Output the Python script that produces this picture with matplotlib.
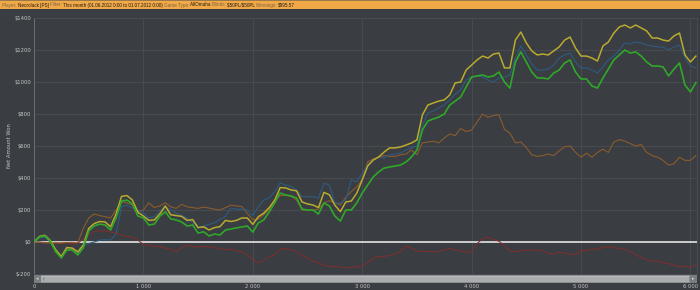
import numpy as np
import matplotlib
matplotlib.use("Agg")
import matplotlib.pyplot as plt
from matplotlib.patches import Rectangle

# ---------------- data ----------------
hands = np.arange(0, 6051, 50)

green = [0,31,38,2,-62,-100,-50,-50,-81,-38,
         69,100,112,106,75,150,256,262,238,162,
         150,106,112,162,188,144,138,125,100,106,
         56,64,38,50,44,75,81,88,94,100,
         62,119,138,188,244,306,294,288,275,206,
         200,200,175,244,225,162,131,200,200,244,
         306,356,406,438,462,469,475,481,500,531,
         575,700,756,769,781,800,856,881,906,969,
         1031,1038,1044,1031,1038,1062,1000,962,1125,1188,
         1125,1062,1025,1025,1019,1056,1075,1119,1138,1062,
         1019,1019,975,962,1025,1081,1138,1169,1200,1181,
         1188,1162,1125,1100,1100,1094,1038,1081,1119,981,
         938,996]

yellow = [0,35,42,8,-50,-90,-35,-38,-62,-20,
          85,115,128,125,95,175,285,290,262,185,
          162,135,138,175,225,170,165,160,135,140,
          90,95,75,90,96,135,128,135,150,150,
          110,158,180,215,260,340,338,325,320,250,
          238,231,215,310,295,230,190,250,256,305,
          388,475,512,531,562,588,588,594,606,619,
          638,794,856,869,881,888,919,994,1000,1075,
          1106,1138,1162,1150,1175,1181,1088,1088,1262,1312,
          1244,1194,1169,1175,1169,1194,1219,1262,1281,1212,
          1162,1162,1150,1131,1225,1250,1306,1344,1356,1338,
          1356,1338,1319,1275,1275,1262,1256,1288,1306,1169,
          1125,1162]

blue = [0,25,30,0,-60,-95,-45,-45,-75,-25,
        -10,0,12,15,12,50,221,230,212,200,
        180,150,160,190,221,200,180,165,150,120,
        88,100,110,120,140,160,212,205,205,200,
        165,221,262,275,315,369,356,346,325,283,
        283,283,275,367,356,244,244,262,388,377,
        429,481,512,531,525,544,550,556,575,588,
        600,731,806,819,838,856,888,925,950,1012,
        1031,1038,1031,1012,1000,1025,1031,1044,1150,1225,
        1169,1112,1075,1075,1081,1106,1150,1169,1181,1125,
        1088,1088,1075,1056,1094,1138,1162,1200,1244,1238,
        1250,1244,1231,1225,1219,1219,1200,1219,1231,1150,
        1100,1088]

brown = [0,-3,-5,-5,-5,-5,-3,-3,-5,85,
         150,175,165,158,150,200,250,245,230,190,
         200,245,215,225,245,220,210,235,220,215,
         210,218,212,205,200,215,230,225,221,178,
         140,142,170,205,265,290,292,285,262,200,
         200,200,206,245,258,245,232,280,315,345,
         390,500,520,530,540,535,535,545,550,575,
         545,620,625,630,620,650,675,665,710,690,
         700,750,800,780,790,795,705,680,620,625,
         590,545,535,540,550,540,570,595,600,560,
         530,555,530,560,580,560,625,640,630,615,
         600,610,560,540,530,510,480,490,530,510,
         510,540]

red = [0,0,-5,-8,-8,-10,-5,-12,-8,20,
       44,65,70,70,62,55,44,35,30,12,
       -16,-20,-25,-30,-38,-45,-60,-38,-19,-28,
       -32,-28,-30,-35,-40,-50,-45,-55,-60,-80,
       -110,-130,-115,-92,-80,-45,-40,-50,-60,-85,
       -100,-120,-130,-145,-155,-150,-158,-162,-158,-155,
       -150,-130,-100,-92,-90,-85,-75,-60,-25,-40,
       -55,-60,-58,-62,-58,-50,-40,-50,-55,-65,
       -60,-10,20,30,15,5,-25,-55,-60,-55,
       -50,-50,-50,-55,-70,-75,-65,-70,-75,-80,
       -50,-55,-45,-45,-35,-30,-38,-38,-45,-60,
       -80,-95,-112,-120,-118,-130,-135,-145,-155,-150,
       -160,-140]

y_ticks = [-200, 0, 200, 400, 600, 800, 1000, 1200, 1400]
x_ticks = [0, 1000, 2000, 3000, 4000, 5000, 6000]

title_parts = [("Player: ", "label"), ("Necrolack [PS] ", "value"),
               ("Filter: ", "label"),
               ("This month (01.06.2012 0:00 to 01.07.2012 0:00) ", "value"),
               ("Game Type: ", "label"), ("AllOmaha ", "value"),
               ("Blinds: ", "label"), ("$50PL/$50PL ", "value"),
               ("Winnings: ", "label"), ("$995.57", "value")]

# ---------------- style ----------------
BG = "#3a3d41"
GRID = "#4a4e53"
TXT = "#c4c6c8"
W, H = 700, 290

fig = plt.figure(figsize=(7, 2.9), dpi=100, facecolor=BG)
ax = fig.add_axes([34 / W, 1 - 274 / H, 663 / W, 256 / H])
ax.set_facecolor(BG)

ax.set_xlim(0, 6060)
ax.set_ylim(-200, 1400)

ax.set_yticks(y_ticks)
ax.set_yticklabels(["\\$%d" % v for v in y_ticks])
ax.set_xticks(x_ticks)
ax.set_xticklabels([("{:,}".format(v)).replace(",", " ") for v in x_ticks])
ax.tick_params(axis="both", length=0, labelsize=3.8, colors=TXT)
ax.tick_params(axis="y", pad=2.2)
ax.tick_params(axis="x", pad=7.5)

ax.grid(True, color=GRID, lw=0.6)
ax.set_axisbelow(True)
for s in ["top", "right", "bottom"]:
    ax.spines[s].set_color(GRID)
    ax.spines[s].set_linewidth(0.6)
ax.spines["left"].set_color("#6c7074")
ax.spines["left"].set_linewidth(0.7)

ax.axhline(0, color="#f2f2f2", lw=1.1, zorder=2)

ax.plot(hands, red, color="#7e2f2f", lw=0.75, zorder=3)
ax.plot(hands, brown, color="#8c5b2e", lw=0.8, zorder=3)
ax.plot(hands, blue, color="#2f5a80", lw=0.85, zorder=3)
ax.plot(hands, yellow, color="#b9ab2f", lw=1.1, zorder=4)
ax.plot(hands, green, color="#2fa82a", lw=1.2, zorder=5)

fig.text(10 / W, 1 - 146 / H, "Net Amount Won", rotation=90, ha="center",
         va="center", fontsize=3.8, color=TXT)

# ---------------- title bar ----------------
fig.patches.append(Rectangle((0, 1 - 9 / H), 1, 8 / H, transform=fig.transFigure,
                             facecolor="#f1a846", edgecolor="none", zorder=0))
fig.patches.append(Rectangle((0, 1 - 1 / H), 1, 1 / H, transform=fig.transFigure,
                             facecolor="#9a7a4a", edgecolor="none", zorder=0))
renderer = fig.canvas.get_renderer()
xpos = 2 / W
for txt, kind in title_parts:
    t = fig.text(xpos, 1 - 5 / H, txt, fontsize=3.3, va="center", ha="left",
                 family="Liberation Sans",
                 color=("#7d6544" if kind == "label" else "#1c1c1c"),
                 parse_math=False)
    bb = t.get_window_extent(renderer=renderer)
    xpos += bb.width / W

# ---------------- scrollbar ----------------
def frect(x0, y0, x1, y1, color, z=1):
    fig.patches.append(Rectangle((x0 / W, 1 - y1 / H), (x1 - x0) / W, (y1 - y0) / H,
                                 transform=fig.transFigure, facecolor=color,
                                 edgecolor="none", zorder=z))

frect(34, 275, 697, 283, "#8d9092")
frect(41, 276, 689, 282, "#a9abad")
frect(41, 276, 689, 277, "#b9bbbc")
frect(34, 275, 40.5, 283, "#7a7d80")
frect(689.5, 275, 697, 283, "#7a7d80")
fig.text(37 / W, 1 - 279 / H, "\u25c2", fontsize=3.5, color="#d0d0d0", ha="center", va="center")
fig.text(693 / W, 1 - 279 / H, "\u25b8", fontsize=3.5, color="#d0d0d0", ha="center", va="center")
fig.text(44 / W, 1 - 279 / H, "||", fontsize=2.8, color="#6e7173", ha="center", va="center")

fig.savefig("out.png", dpi=100, facecolor=BG)
